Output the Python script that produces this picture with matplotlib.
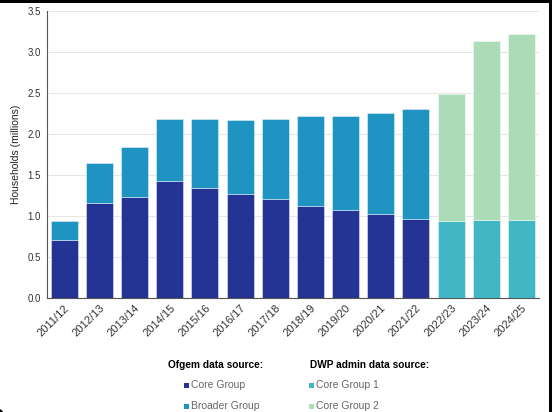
import matplotlib
matplotlib.use("Agg")
import matplotlib.pyplot as plt
from matplotlib.patches import Rectangle, Circle
import numpy as np

plt.rcParams['font.family'] = ['Liberation Sans', 'DejaVu Sans']

years = ["2011/12", "2012/13", "2013/14", "2014/15", "2015/16", "2016/17", "2017/18",
         "2018/19", "2019/20", "2020/21", "2021/22", "2022/23", "2023/24", "2024/25"]
core_group = [0.70, 1.155, 1.235, 1.42, 1.345, 1.27, 1.21, 1.115, 1.065, 1.025, 0.965, 0, 0, 0]
broader_total = [0.935, 1.645, 1.84, 2.18, 2.18, 2.17, 2.18, 2.215, 2.22, 2.255, 2.31, 0, 0, 0]
core_group_1 = [0, 0, 0, 0, 0, 0, 0, 0, 0, 0, 0, 0.94, 0.95, 0.95]
dwp_total = [0, 0, 0, 0, 0, 0, 0, 0, 0, 0, 0, 2.49, 3.135, 3.22]
yticks = [0.0, 0.5, 1.0, 1.5, 2.0, 2.5, 3.0, 3.5]

broader_group = [t - c for t, c in zip(broader_total, core_group)]
core_group_2 = [t - c for t, c in zip(dwp_total, core_group_1)]

c_core = "#253494"
c_broad = "#1f93c1"
c_cg1 = "#41b6c4"
c_cg2 = "#abdcb7"

fig = plt.figure(figsize=(5.52, 4.12), dpi=100)
ax = fig.add_axes([0.0846, 0.2779, 0.8918, 0.6947])

x = np.arange(len(years))
w = 0.77
ec = (1, 1, 1, 0.5)
ax.bar(x, core_group, w, color=c_core, edgecolor=ec, linewidth=0.6, zorder=3)
ax.bar(x, broader_group, w, bottom=core_group, color=c_broad, edgecolor=ec, linewidth=0.6, zorder=3)
ax.bar(x, core_group_1, w, color=c_cg1, edgecolor=ec, linewidth=0.6, zorder=3)
ax.bar(x, core_group_2, w, bottom=core_group_1, color=c_cg2, edgecolor=ec, linewidth=0.6, zorder=3)

ax.set_xlim(-0.5, 13.5)
ax.set_ylim(0, 3.5)
ax.set_yticks(yticks)
ax.set_yticklabels([f"{v:.1f}" for v in yticks], fontsize=7, color="#333333")
ax.set_xticks(x)
ax.set_xticklabels(years, rotation=45, ha='right', va='top', rotation_mode='anchor',
                   fontsize=8, color="#333333")
ax.tick_params(axis='both', length=0, pad=4)
ax.tick_params(axis='x', pad=4)
ax.grid(axis='y', color="#e6e6e6", linewidth=0.8, zorder=0)
for s in ['top', 'right']:
    ax.spines[s].set_visible(False)
ax.spines['left'].set_color("#555555")
ax.spines['bottom'].set_color("#555555")
ax.spines['left'].set_linewidth(0.8)
ax.spines['bottom'].set_linewidth(0.8)
ax.set_ylabel("Households (millions)", fontsize=7.5, color="#222222", labelpad=5)

W, H = 552, 412
def fx(px): return px / W
def fy(py): return 1 - py / H

fig.text(fx(168), fy(365), "Ofgem data source:", fontsize=7.3, fontweight='bold', va='center', ha='left')
fig.text(fx(310), fy(365), "DWP admin data source:", fontsize=7.3, fontweight='bold', va='center', ha='left')

items = [(191, 385, c_core, "Core Group"), (191, 406, c_broad, "Broader Group"),
         (316, 385, c_cg1, "Core Group 1"), (316, 406, c_cg2, "Core Group 2")]
for px, py, col, lab in items:
    fig.patches.append(Rectangle((fx(px - 7), fy(py + 2.5)), 5 / W, 5 / H, transform=fig.transFigure,
                                 facecolor=col, edgecolor='none'))
    fig.text(fx(px), fy(py), lab, fontsize=7.5, color="#666666", va='center', ha='left')

# black frame fragments
fig.patches.append(Rectangle((0, fy(3)), 1, 3 / H, transform=fig.transFigure, facecolor='black', edgecolor='none'))
fig.patches.append(Rectangle((fx(549), 0), 3 / W, 1, transform=fig.transFigure, facecolor='black', edgecolor='none'))
fig.patches.append(Circle((fx(-6), fy(415)), 10 / W, transform=fig.transFigure, facecolor='black', edgecolor='none'))

fig.savefig("out.png", dpi=100)
